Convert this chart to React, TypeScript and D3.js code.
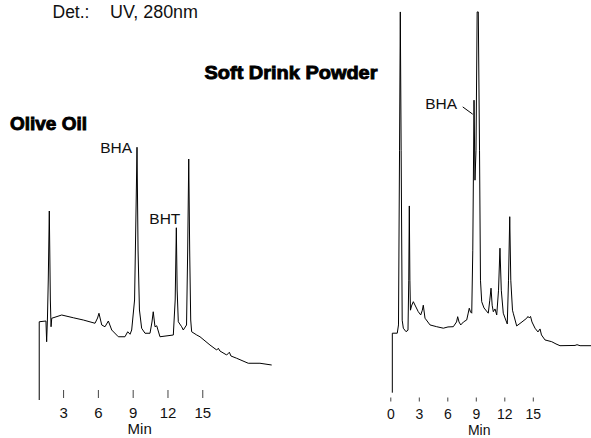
import React from "react";
import * as d3 from "d3";

// Olive oil trace: [time (min), signal]
const oliveTime = [0.9, 0.9, 1.48, 1.54, 1.61, 1.68, 1.77, 1.86, 1.92, 1.98, 2.84, 3.84, 4.7, 5.71, 5.93, 6.05, 6.29, 6.57, 6.86, 7.15, 7.72, 8.29, 8.53, 8.73, 8.87, 9.12, 9.26, 9.33, 9.42, 9.54, 9.73, 10.02, 10.45, 10.62, 10.73, 10.88, 11.03, 11.31, 12.46, 12.62, 12.72, 12.79, 12.89, 13.18, 13.32, 13.6, 13.7, 13.79, 13.87, 13.96, 14.04, 14.48, 14.76, 15.62, 16.2, 16.34, 16.48, 17.06, 17.29, 17.43, 17.92, 18.92, 19.93, 20.94];
const oliveSignal = [0, 31.3, 31.6, 23.3, 32.8, 48, 75.6, 40, 29.3, 32.7, 34, 32.9, 32, 30.7, 32.8, 34.7, 30, 29.3, 31.6, 28, 25.3, 25.3, 27.3, 26.3, 28, 40, 80, 101.1, 60, 36, 28.7, 26.7, 26.7, 31.2, 35.3, 29.3, 29.7, 25.3, 26, 40, 68.9, 44, 31.3, 29.3, 28, 30, 60, 96.4, 60, 32, 27.3, 26, 25.3, 22, 20, 20.7, 19.6, 18, 19.1, 17.6, 16.7, 14.7, 14.7, 14];

// Soft drink powder trace
const drinkTime = [0.16, 0.16, 0.68, 0.81, 0.92, 1.0, 1.09, 1.2, 1.32, 1.6, 1.81, 1.89, 1.95, 2.01, 2.07, 2.18, 2.37, 2.89, 3.15, 3.32, 3.42, 3.6, 4.13, 4.83, 5.53, 6.02, 6.58, 6.92, 7.04, 7.18, 7.36, 7.65, 7.99, 8.13, 8.26, 8.39, 8.52, 8.63, 8.76, 8.86, 8.97, 9.09, 9.21, 9.34, 9.44, 9.57, 9.81, 10.26, 10.42, 10.55, 10.67, 10.79, 10.97, 11.15, 11.34, 11.49, 11.63, 11.84, 12.02, 12.26, 12.39, 12.52, 12.63, 12.81, 12.89, 13.25, 13.81, 14.31, 14.44, 14.58, 14.71, 14.86, 15.18, 15.49, 15.71, 15.86, 16.23, 16.94, 17.39, 17.81, 19.39, 19.6, 19.92, 21.08];
const drinkSignal = [0, 23.8, 23.8, 27.1, 97, 152.3, 97, 29, 25.8, 24.4, 25, 45, 74.7, 45, 33, 34.7, 36.4, 32.4, 31.1, 33, 35, 29.8, 27.1, 26.4, 25.8, 26.3, 26.4, 28.3, 30.4, 28.3, 27.1, 28.3, 29.1, 31.5, 33.8, 32.3, 31.8, 57, 117, 85, 97, 152.3, 152.3, 97, 45, 36.4, 33.9, 31.8, 37, 41.8, 35, 32.4, 33.5, 31.1, 41, 57.8, 41, 31.8, 29.9, 27.5, 45, 70.4, 45, 33, 31.8, 26.7, 28.3, 29.8, 30.5, 29.9, 30.5, 28.3, 25.8, 24.3, 25.5, 23.1, 21.1, 20.4, 19.5, 18.8, 18.9, 19.2, 18.8, 18.8];

const oliveTicks = [3, 6, 9, 12, 15];
const drinkTicks = [0, 3, 6, 9, 12, 15];

const oliveLabels = [{ text: "BHA", t: 9.33, v: 101.1 }, { text: "BHT", t: 12.72, v: 68.9 }];
const drinkLabel = { text: "BHA", t: 8.76, v: 117 };

const FONT = "'Liberation Sans', Arial, Helvetica, sans-serif";

export default function App() {
  const xL = d3.scaleLinear().domain([0, 21]).range([28.78, 28.78 + 21 * 11.6]);
  const yL = d3.scaleLinear().domain([0, 100]).range([400, 150]);
  const xR = d3.scaleLinear().domain([0, 21]).range([390.8, 390.8 + 21 * 9.5]);
  const yR = d3.scaleLinear().domain([0, 100]).range([392.7, 142.7]);

  const oliveData = oliveTime.map((t, i) => [t, oliveSignal[i]] as [number, number]);
  const drinkData = drinkTime.map((t, i) => [t, drinkSignal[i]] as [number, number]);

  const lineL = d3.line<[number, number]>().x((d) => xL(d[0])).y((d) => yL(d[1]));
  const lineR = d3.line<[number, number]>().x((d) => xR(d[0])).y((d) => yR(d[1]));

  return (
    <svg width={591} height={438} style={{ position: "absolute", left: 0, top: 0, background: "#fff" }} fontFamily={FONT}>
      <rect width={591} height={438} fill="#fff" />
      <text x={52.5} y={18.3} fontSize={17.5} fill="#111">Det.:</text>
      <text x={110} y={18.3} fontSize={17.5} fill="#111" textLength={88} lengthAdjust="spacingAndGlyphs">UV, 280nm</text>

      <text x={10} y={130} fontSize={18.5} fontWeight={900} stroke="#000" strokeWidth={0.9} fill="#000" textLength={77} lengthAdjust="spacingAndGlyphs">Olive Oil</text>
      <text x={204.5} y={78.7} fontSize={18.5} fontWeight={900} stroke="#000" strokeWidth={0.9} fill="#000" textLength={173} lengthAdjust="spacingAndGlyphs">Soft Drink Powder</text>

      <path d={lineL(oliveData) || ""} fill="none" stroke="#000" strokeWidth={1} strokeLinejoin="round" />
      <path d={lineR(drinkData) || ""} fill="none" stroke="#000" strokeWidth={1} strokeLinejoin="round" />

      {oliveLabels.map((l) => (
        <text key={l.text} x={xL(l.t) - (l.text === "BHA" ? 5 : -4)} y={yL(l.v) + (l.text === "BHA" ? 6 : -4)} fontSize={15.5} textAnchor="end" fill="#111">{l.text}</text>
      ))}
      <text x={xR(drinkLabel.t) - 17} y={yR(drinkLabel.v) + 8.3} fontSize={15.5} textAnchor="end" fill="#111">{drinkLabel.text}</text>
      <line x1={xR(drinkLabel.t) - 11.3} y1={yR(drinkLabel.v) + 6.7} x2={xR(drinkLabel.t) - 1.3} y2={yR(drinkLabel.v) + 14} stroke="#000" strokeWidth={1} />

      {oliveTicks.map((t) => (
        <g key={"l" + t}>
          <line x1={xL(t)} x2={xL(t)} y1={390} y2={398} stroke="#444" strokeWidth={1} />
          <text x={xL(t)} y={417.5} fontSize={15} textAnchor="middle" fill="#111">{t}</text>
        </g>
      ))}
      <text x={139.7} y={434} fontSize={15} textAnchor="middle" fill="#111">Min</text>

      {drinkTicks.map((t) => (
        <g key={"r" + t}>
          <line x1={xR(t)} x2={xR(t)} y1={397.5} y2={401.5} stroke="#444" strokeWidth={1} />
          <text x={xR(t)} y={418.5} fontSize={14} textAnchor="middle" fill="#111">{t}</text>
        </g>
      ))}
      <text x={479.2} y={434.8} fontSize={14} textAnchor="middle" fill="#111">Min</text>
    </svg>
  );
}
